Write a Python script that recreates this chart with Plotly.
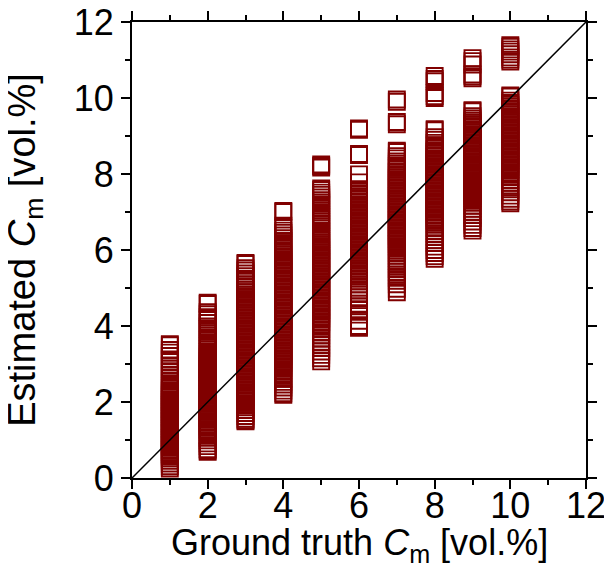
import plotly.graph_objects as go

# ground-truth categories
truth = [1, 2, 3, 4, 5, 6, 7, 8, 9, 10]

est_1 = [3.52, 3.49, 3.37, 3.30, 3.21, 3.12, 3.05, 2.96, 2.88, 2.81, 2.72, 2.64, 2.57, 2.49, 2.42, 2.36,
         2.31, 2.28, 2.24, 2.19, 2.16, 2.12, 2.07, 2.04, 2.00, 1.95, 1.92, 1.88, 1.83, 1.80, 1.75, 1.72,
         1.68, 1.63, 1.60, 1.56, 1.51, 1.48, 1.44, 1.40, 1.36, 1.31, 1.28, 1.24, 1.19, 1.16, 1.12, 1.07,
         1.04, 1.00, 0.96, 0.92, 0.87, 0.84, 0.80, 0.75, 0.72, 0.68, 0.63, 0.60, 0.56, 0.51,
         0.45, 0.38, 0.31, 0.25]
est_2 = [4.61, 4.58, 4.36, 4.31, 4.23, 4.16, 4.08, 3.99, 3.92, 3.85, 3.76, 3.69, 3.61, 3.53, 3.46, 3.39, 3.31, 3.26,
         3.21, 3.17, 3.13, 3.08, 3.05, 3.00, 2.96, 2.92, 2.87, 2.84, 2.79, 2.75, 2.71, 2.66, 2.63, 2.58, 2.54,
         2.50, 2.45, 2.42, 2.37, 2.33, 2.29, 2.24, 2.21, 2.16, 2.12, 2.08, 2.03, 2.00, 1.95, 1.91, 1.87, 1.82,
         1.79, 1.74, 1.70, 1.66, 1.61, 1.58, 1.53, 1.49, 1.45, 1.40, 1.37, 1.32, 1.28, 1.24, 1.21,
         1.14, 1.06, 0.99, 0.91, 0.84, 0.76, 0.72, 0.69]
est_3 = [5.66, 5.63, 5.52, 5.46, 5.38, 5.31, 5.24, 5.16, 5.09, 5.02, 4.95, 4.89, 4.83,
         4.78, 4.74, 4.70, 4.65, 4.62, 4.57, 4.53, 4.49, 4.44, 4.41, 4.36, 4.32, 4.28, 4.23, 4.20, 4.15, 4.11,
         4.07, 4.02, 3.99, 3.94, 3.90, 3.86, 3.81, 3.78, 3.73, 3.69, 3.65, 3.60, 3.57, 3.52, 3.48, 3.44, 3.39,
         3.36, 3.31, 3.27, 3.23, 3.18, 3.15, 3.10, 3.06, 3.02, 2.97, 2.94, 2.89, 2.85, 2.81, 2.76, 2.73, 2.68,
         2.64, 2.60, 2.55, 2.52, 2.47, 2.43, 2.39, 2.34, 2.31, 2.26, 2.22, 2.18, 2.13, 2.10, 2.05, 2.01,
         1.94, 1.86, 1.79, 1.71, 1.63, 1.56, 1.52, 1.49]
est_4 = [7.03, 7.00, 6.64, 6.58, 6.51, 6.45, 6.38, 6.31, 6.24, 6.18, 6.12, 6.06, 5.99, 5.93,
         5.88, 5.84, 5.80, 5.75, 5.72, 5.67, 5.63, 5.59, 5.54, 5.51, 5.46, 5.42, 5.38, 5.33, 5.30, 5.25, 5.21,
         5.17, 5.12, 5.09, 5.04, 5.00, 4.96, 4.91, 4.88, 4.83, 4.79, 4.75, 4.70, 4.67, 4.62, 4.58, 4.54, 4.49,
         4.46, 4.41, 4.37, 4.33, 4.28, 4.25, 4.20, 4.16, 4.12, 4.07, 4.04, 3.99, 3.95, 3.91, 3.86, 3.83, 3.78,
         3.74, 3.70, 3.65, 3.62, 3.57, 3.53, 3.49, 3.44, 3.41, 3.36, 3.32, 3.28, 3.23, 3.20, 3.15, 3.11, 3.07,
         3.02, 2.99, 2.94, 2.90,
         2.84, 2.76, 2.69, 2.61, 2.53, 2.46, 2.38, 2.30, 2.23, 2.19]
est_5 = [8.25, 8.21, 8.17,
         7.62, 7.58, 7.51, 7.45, 7.38, 7.31, 7.25, 7.18, 7.11, 7.05, 6.99, 6.92, 6.86, 6.80, 6.74, 6.68, 6.62,
         6.57, 6.51, 6.46, 6.40, 6.35, 6.29, 6.24, 6.19, 6.14,
         6.10, 6.06, 6.01, 5.98, 5.93, 5.89, 5.85, 5.80, 5.77, 5.72, 5.68, 5.64, 5.59, 5.56, 5.51, 5.47, 5.43,
         5.38, 5.35, 5.30, 5.26, 5.22, 5.17, 5.14, 5.09, 5.05, 5.01, 4.96, 4.93, 4.88, 4.84, 4.80, 4.75, 4.72,
         4.67, 4.63, 4.59, 4.54, 4.51, 4.46, 4.42, 4.38, 4.33, 4.30, 4.25, 4.21, 4.17, 4.12, 4.09, 4.05,
         3.98, 3.91, 3.83, 3.76, 3.68, 3.59, 3.51, 3.42, 3.33, 3.24, 3.15, 3.07]
est_6 = [9.20, 9.16, 8.53, 8.50, 7.99, 7.78,
         7.60, 7.57, 7.53, 7.48, 7.45, 7.40, 7.36, 7.32, 7.27, 7.24, 7.19, 7.15, 7.11, 7.06, 7.03, 6.98, 6.94,
         6.90, 6.85, 6.82, 6.77, 6.73, 6.69, 6.64, 6.61, 6.56, 6.52, 6.48, 6.43, 6.40, 6.35, 6.31, 6.27, 6.22,
         6.19, 6.14, 6.10, 6.06, 6.01, 5.98, 5.93, 5.89, 5.85, 5.80, 5.77, 5.72, 5.68, 5.64, 5.59, 5.56, 5.51,
         5.47, 5.43, 5.38, 5.35, 5.31,
         5.24, 5.17, 5.09, 5.01, 4.93, 4.84, 4.76, 4.68, 4.59, 4.52, 4.44, 4.30, 4.14, 4.00, 3.95]
est_7 = [9.96, 9.90, 9.37, 9.31,
         8.61, 8.58, 8.47, 8.41, 8.33, 8.27, 8.21,
         8.16, 8.12, 8.07, 8.04, 7.99, 7.95, 7.91, 7.86, 7.83, 7.78, 7.74, 7.70, 7.65, 7.62, 7.57, 7.53, 7.49,
         7.44, 7.41, 7.36, 7.32, 7.28, 7.23, 7.20, 7.15, 7.11, 7.07, 7.02, 6.99, 6.94, 6.90, 6.86, 6.81, 6.78,
         6.73, 6.69, 6.65, 6.60, 6.57, 6.52, 6.48, 6.44, 6.39, 6.36, 6.31, 6.27, 6.23, 6.18, 6.15, 6.10,
         6.04, 5.98, 5.91, 5.85, 5.78, 5.71, 5.65, 5.57, 5.50, 5.43, 5.35, 5.27, 5.19, 5.10, 4.98, 4.89]
est_8 = [10.58, 10.50, 10.44, 10.13, 10.05, 10.00,
         9.18, 9.15, 8.97, 8.90, 8.82, 8.75,
         8.70, 8.66, 8.61, 8.58, 8.53, 8.49, 8.45, 8.40, 8.37, 8.32, 8.28, 8.24, 8.19, 8.16, 8.11, 8.07, 8.03,
         7.98, 7.95, 7.90, 7.86, 7.82, 7.77, 7.74, 7.69, 7.65, 7.61, 7.56, 7.53, 7.48, 7.44, 7.40, 7.35, 7.32,
         7.27, 7.23, 7.19, 7.14, 7.11, 7.06, 7.02, 6.98, 6.93, 6.90, 6.85, 6.81, 6.77, 6.72,
         6.66, 6.58, 6.50, 6.43, 6.35, 6.26, 6.18, 6.09, 6.00, 5.92, 5.84, 5.77]
est_9 = [11.05, 10.97, 10.88, 10.62, 10.57, 10.52,
         9.68, 9.65, 9.52, 9.46, 9.40,
         9.35, 9.31, 9.26, 9.23, 9.18, 9.14, 9.10, 9.05, 9.02, 8.97, 8.93, 8.89, 8.84, 8.81, 8.76, 8.72, 8.68,
         8.63, 8.60, 8.55, 8.51, 8.47, 8.42, 8.39, 8.34, 8.30, 8.26, 8.21, 8.18, 8.13, 8.09, 8.05, 8.00, 7.97,
         7.92, 7.88, 7.84, 7.79, 7.76, 7.71, 7.67, 7.63, 7.58, 7.55, 7.50, 7.46, 7.42, 7.37,
         7.31, 7.24, 7.16, 7.09, 7.01, 6.92, 6.84, 6.75, 6.66, 6.58, 6.51]
est_10 = [11.39, 11.35, 11.28, 11.22, 11.15, 11.07, 11.01, 10.96,
          10.07, 10.04, 9.93, 9.87,
          9.82, 9.78, 9.73, 9.70, 9.65, 9.61, 9.57, 9.52, 9.49, 9.44, 9.40, 9.36, 9.31, 9.28, 9.23, 9.19, 9.15,
          9.10, 9.07, 9.02, 8.98, 8.94, 8.89, 8.86, 8.81, 8.77, 8.73, 8.68, 8.65, 8.60, 8.56, 8.52, 8.47, 8.44,
          8.39, 8.35, 8.31, 8.26, 8.23, 8.18, 8.14, 8.10, 8.05,
          7.99, 7.92, 7.84, 7.77, 7.69, 7.60, 7.52, 7.43, 7.35, 7.28, 7.23]

estimates = [est_1, est_2, est_3, est_4, est_5, est_6, est_7, est_8, est_9, est_10]

# identity line end points
ident = [0, 12]
tick_vals = [0, 2, 4, 6, 8, 10, 12]

xs, ys = [], []
for t, col in zip(truth, estimates):
    xs += [t] * len(col)
    ys += col

MAROON = "#800000"
FONT = "Arial, Liberation Sans, Helvetica, sans-serif"

fig = go.Figure()
fig.add_trace(go.Scatter(
    x=xs, y=ys, mode="markers",
    marker=dict(symbol="square-open", size=16, color=MAROON,
                line=dict(width=1.9, color=MAROON)),
    showlegend=False, hoverinfo="x+y",
))
fig.add_trace(go.Scatter(
    x=ident, y=ident, mode="lines",
    line=dict(color="black", width=1.5), showlegend=False,
))

axis_common = dict(
    range=[0, 12], tickvals=tick_vals, ticks="outside", ticklen=9, tickwidth=2,
    tickcolor="black", showline=True, linecolor="black", linewidth=2,
    mirror="ticks", showgrid=False, zeroline=False, automargin=False,
    ticklabeloverflow="allow",
    tickfont=dict(family=FONT, size=36, color="black"),
    minor=dict(dtick=1, tick0=0, ticks="outside", ticklen=5, tickwidth=2, tickcolor="black", showgrid=False),
)

fig.update_xaxes(**axis_common, ticklabelstandoff=-14)
fig.update_yaxes(**axis_common)

# the page body adds an 8 px offset; figure sized/margined to compensate
fig.update_layout(
    width=604, height=566,
    margin=dict(l=124, r=26, t=14, b=96),
    plot_bgcolor="white", paper_bgcolor="white",
    font=dict(family=FONT, color="black"),
    annotations=[
        dict(text="Ground truth <i>C</i><sub>m</sub> [vol.%]", xref="paper", yref="paper",
             x=0.5, y=-0.092, xanchor="center", yanchor="top", showarrow=False,
             font=dict(family=FONT, size=36, color="black")),
        dict(text="Estimated <i>C</i><sub>m</sub> [vol.%]", xref="paper", yref="paper",
             x=-0.236, y=0.5, xanchor="center", yanchor="middle", textangle=-90, showarrow=False,
             font=dict(family=FONT, size=38, color="black")),
    ],
)

fig.write_html("out.html")
